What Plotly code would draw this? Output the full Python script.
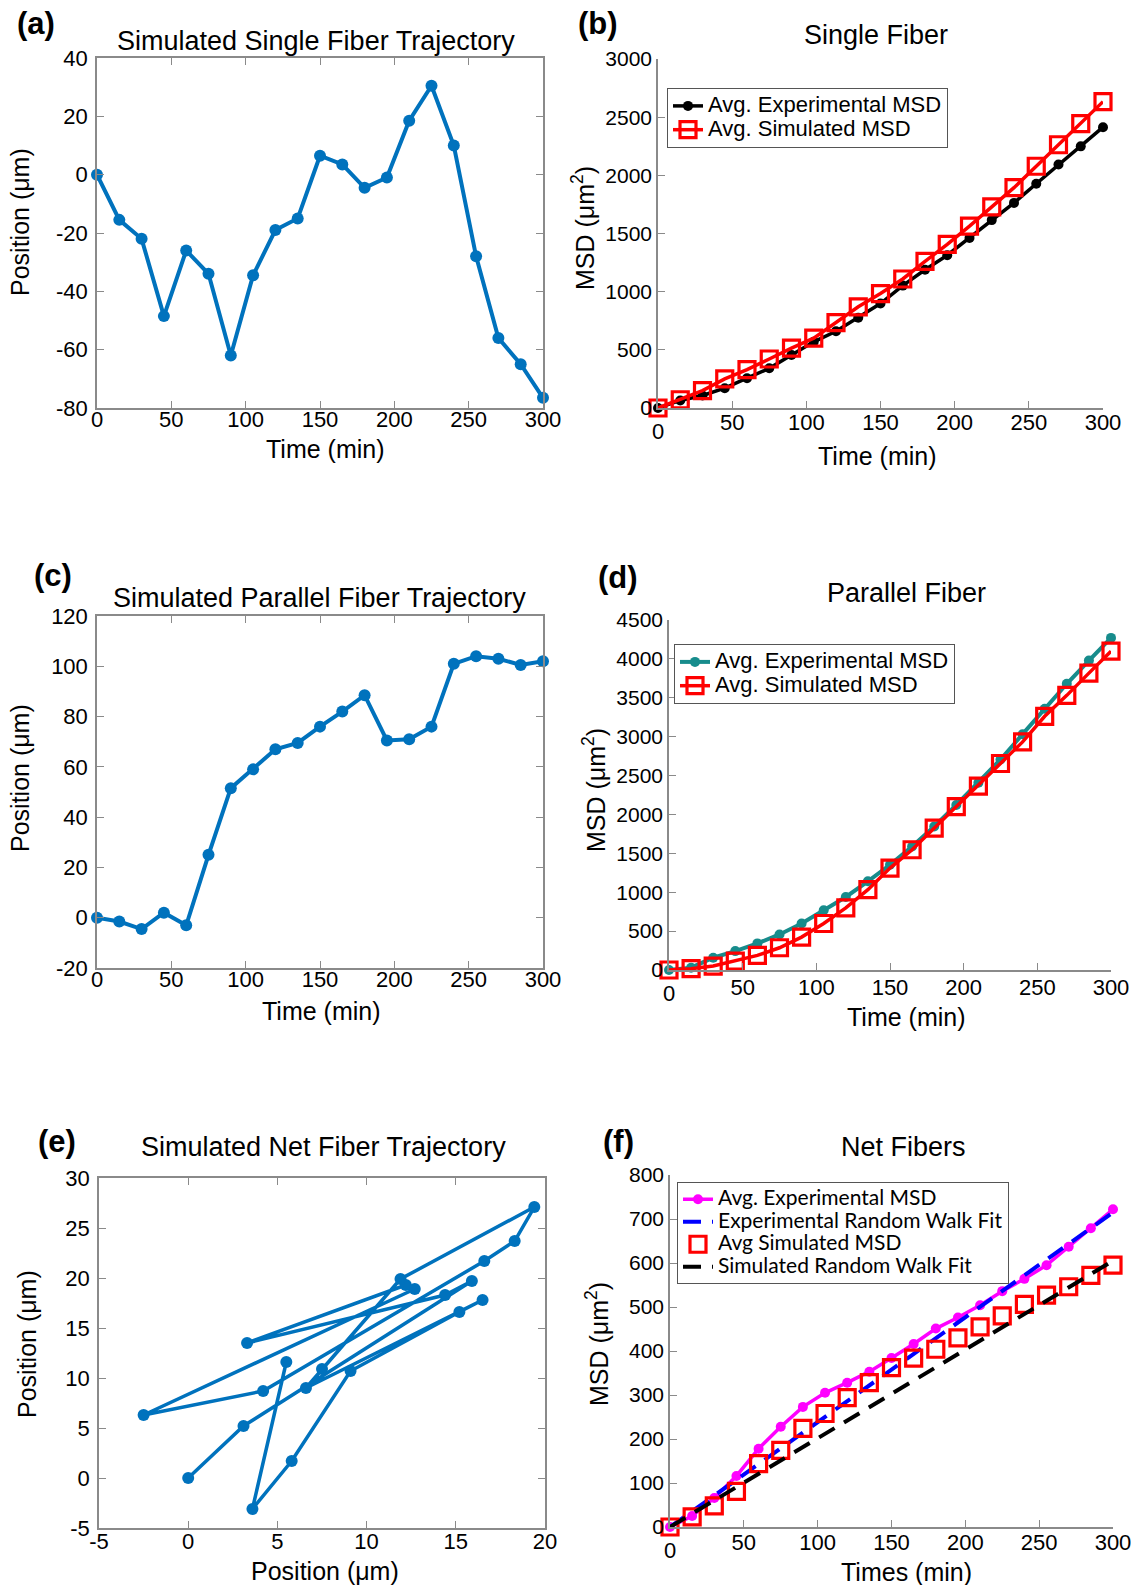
import plotly.graph_objects as go

# ---------------- data ----------------
times = [0, 15, 30, 45, 60, 75, 90, 105, 120, 135, 150, 165, 180, 195, 210, 225, 240, 255, 270, 285, 300]

single_traj = [0, -15.5, -22, -48.5, -26, -34, -62, -34.5, -19, -15, 6.5, 3.5, -4.5, -1, 18.5, 30.5, 10, -28, -56, -65, -76.5]

single_exp_msd = [0, 65, 108, 170, 256, 341, 455, 569, 660, 776, 898, 1052, 1188, 1313, 1461, 1615, 1763, 1928, 2093, 2249, 2414]
single_sim_msd = [0, 71, 150, 250, 330, 421, 515, 600, 734, 870, 984, 1109, 1260, 1407, 1564, 1729, 1894, 2078, 2263, 2445, 2633]

parallel_traj = [0, -1.5, -4.5, 2, -3, 25, 51.5, 59, 67, 69.5, 76, 82, 88.5, 70.5, 71, 76, 101, 104, 103, 100.5, 102]

parallel_exp_msd = [0, 30, 158, 243, 342, 457, 598, 769, 939, 1140, 1353, 1588, 1845, 2122, 2408, 2707, 3032, 3360, 3680, 3979, 4270]
parallel_sim_msd = [0, 17, 51, 115, 188, 286, 423, 598, 798, 1033, 1311, 1546, 1823, 2101, 2365, 2655, 2933, 3262, 3531, 3817, 4099]

net_x = [0, 3.1, 15.9, 14.4, 3.3, 12.2, 12.7, -2.5, 4.2, 16.6, 18.3, 19.4, 11.9, 7.5, 6.6, 16.5, 15.2, 9.1, 5.8, 3.6, 5.5]
net_y = [0, 5.2, 19.7, 18.3, 13.5, 19.3, 18.9, 6.3, 8.7, 21.7, 23.7, 27.1, 19.9, 10.9, 9.0, 17.8, 16.6, 10.7, 1.7, -3.1, 11.6]

net_exp_msd = [0, 25, 66, 116, 178, 228, 273, 305, 328, 353, 384, 416, 451, 476, 504, 536, 564, 595, 637, 679, 722]
net_sim_msd = [0, 23, 48, 81, 144, 174, 224, 258, 294, 328, 362, 384, 404, 430, 455, 480, 506, 527, 546, 572, 595]
fit_times = [0, 300]
net_exp_fit = [0, 715]
net_sim_fit = [0, 605]

# tick values / labels
time_ticks = [0, 50, 100, 150, 200, 250, 300]
time_ticks_no0 = [50, 100, 150, 200, 250, 300]
ya_ticks = [-80, -60, -40, -20, 0, 20, 40]
ya_labels = ["-80", "-60", "-40", "-20", "0", "20", "40"]
yc_ticks = [-20, 0, 20, 40, 60, 80, 100, 120]
yc_labels = ["-20", "0", "20", "40", "60", "80", "100", "120"]
xe_ticks = [-5, 0, 5, 10, 15, 20]
xe_labels = ["-5", "0", "5", "10", "15", "20"]
ye_ticks = [-5, 0, 5, 10, 15, 20, 25, 30]
ye_labels = ["-5", "0", "5", "10", "15", "20", "25", "30"]
yb_ticks = [0, 500, 1000, 1500, 2000, 2500, 3000]
yd_ticks = [0, 500, 1000, 1500, 2000, 2500, 3000, 3500, 4000, 4500]
yf_ticks = [0, 100, 200, 300, 400, 500, 600, 700, 800]

# ---------------- style ----------------
W, H = 1142, 1585
FONT = "Liberation Sans, Arial, sans-serif"
BLUE = "#0072BD"
TEAL = "#178C8C"
RED = "#FF0000"
MAG = "#FF00FF"
AXC = "#8a8a8a"

def xd(p0, p1):
    return [p0 / W, p1 / W]

def yd(top, bot):
    return [1 - bot / H, 1 - top / H]

# panel plot areas in pixels: (left, right, top, bottom)
P = {
    1: (97, 543, 58, 408),
    2: (658, 1103, 59, 408),
    3: (97, 543, 616, 968),
    4: (669, 1111, 620, 970),
    5: (99, 545, 1178, 1528),
    6: (670, 1113, 1175, 1527),
}

def big(s, px):
    return f'<span style="font-size:{px}px">{s}</span>'

fig = go.Figure()

def sc(**kw):
    kw.setdefault("cliponaxis", False)
    fig.add_trace(go.Scatter(**kw))

SQ = dict(color=RED, size=16, symbol="square-open", line=dict(width=3.2, color=RED))

# (a)
sc(x=times, y=single_traj, mode="lines+markers", line=dict(color=BLUE, width=4),
   marker=dict(color=BLUE, size=12), xaxis="x", yaxis="y", showlegend=False)
# (b)
sc(x=times, y=single_exp_msd, mode="lines+markers", name=big("Avg. Experimental MSD", 22),
   line=dict(color="black", width=3.5), marker=dict(color="black", size=10),
   xaxis="x2", yaxis="y2", legend="legend")
sc(x=times, y=single_sim_msd, mode="lines+markers", name=big("Avg. Simulated MSD", 22),
   line=dict(color=RED, width=3.5), marker=SQ,
   xaxis="x2", yaxis="y2", legend="legend")
# (c)
sc(x=times, y=parallel_traj, mode="lines+markers", line=dict(color=BLUE, width=4),
   marker=dict(color=BLUE, size=12), xaxis="x3", yaxis="y3", showlegend=False)
# (d)
sc(x=times, y=parallel_exp_msd, mode="lines+markers", name=big("Avg. Experimental MSD", 22),
   line=dict(color=TEAL, width=4), marker=dict(color=TEAL, size=10),
   xaxis="x4", yaxis="y4", legend="legend2")
sc(x=times, y=parallel_sim_msd, mode="lines+markers", name=big("Avg. Simulated MSD", 22),
   line=dict(color=RED, width=3.5), marker=SQ,
   xaxis="x4", yaxis="y4", legend="legend2")
# (e)
sc(x=net_x, y=net_y, mode="lines+markers", line=dict(color=BLUE, width=3.5),
   marker=dict(color=BLUE, size=12), xaxis="x5", yaxis="y5", showlegend=False)
# (f)
sc(x=times, y=net_exp_msd, mode="lines+markers", name=big("Avg. Experimental MSD", 21),
   line=dict(color=MAG, width=3.5), marker=dict(color=MAG, size=10),
   xaxis="x6", yaxis="y6", legend="legend3")
sc(x=fit_times, y=net_exp_fit, mode="lines", name=big("Experimental Random Walk Fit", 21),
   line=dict(color="#0000FF", width=4, dash="18px,11px"),
   xaxis="x6", yaxis="y6", legend="legend3")
sc(x=times, y=net_sim_msd, mode="markers", name=big("Avg Simulated MSD", 21),
   marker=SQ, xaxis="x6", yaxis="y6", legend="legend3")
sc(x=fit_times, y=net_sim_fit, mode="lines", name=big("Simulated Random Walk Fit", 21),
   line=dict(color="black", width=4, dash="18px,11px"),
   xaxis="x6", yaxis="y6", legend="legend3")

tickfont = dict(family=FONT, size=22, color="black")
tickfont_msd = dict(family=FONT, size=21, color="black")

def axis(dom, rng, anchor, mirror, tickvals, ticktext, font, standoff):
    d = dict(domain=dom, range=rng, anchor=anchor, showgrid=False, zeroline=False,
             showline=True, linecolor=AXC, linewidth=1.5, ticks="inside", ticklen=7,
             tickcolor=AXC, tickwidth=1.2, tickfont=font, mirror=mirror,
             automargin=False, tickmode="array", tickvals=tickvals, ticklabelstandoff=standoff)
    if ticktext is not None:
        d["ticktext"] = ticktext
    return d

# panel: x range, x ticks, x labels, x standoff, y range, y ticks, y labels, y font, y standoff, mirror
cfg = {
    1: ([0, 300], time_ticks, None, -9, [-80, 40], ya_ticks, ya_labels, tickfont, 3, "ticks"),
    2: ([0, 300], time_ticks_no0, None, -6, [0, 3000], yb_ticks, None, tickfont_msd, 0, False),
    3: ([0, 300], time_ticks, None, -9, [-20, 120], yc_ticks, yc_labels, tickfont, 3, "ticks"),
    4: ([0, 300], time_ticks_no0, None, -3, [0, 4500], yd_ticks, None, tickfont_msd, 0, False),
    5: ([-5, 20], xe_ticks, xe_labels, -7, [-5, 30], ye_ticks, ye_labels, tickfont, 3, "ticks"),
    6: ([0, 300], time_ticks_no0, None, -5, [0, 800], yf_ticks, None, tickfont_msd, 0, False),
}
lay = {}
for i, (xr, xtv, xtt, xso, yr, ytv, ytt, yfont, yso, mir) in cfg.items():
    l, r, t, b = P[i]
    xn = "xaxis" if i == 1 else f"xaxis{i}"
    yn = "yaxis" if i == 1 else f"yaxis{i}"
    lay[xn] = axis(xd(l, r), xr, "y" if i == 1 else f"y{i}", mir, xtv, xtt, tickfont, xso)
    lay[yn] = axis(yd(t, b), yr, "x" if i == 1 else f"x{i}", mir, ytv, ytt, yfont, yso)

fig.update_layout(**lay)

def leg(xpx, ypx, font):
    return dict(x=xpx / W, y=1 - ypx / H, xanchor="left", yanchor="top", xref="paper", yref="paper",
                bordercolor="#555555", borderwidth=1, bgcolor="white", font=font,
                itemwidth=30, tracegroupgap=0, traceorder="normal")

fig.update_layout(
    legend=leg(667, 88, dict(family=FONT, size=16, color="black")),
    legend2=leg(674, 644, dict(family=FONT, size=16, color="black")),
    legend3=leg(677, 1182, dict(family="Lato, Liberation Sans, sans-serif", size=15, color="black")),
)

ann = []
def txt(s, xpx, ypx, size=25, bold=False, angle=0, xanchor="center"):
    ann.append(dict(text=f"<b>{s}</b>" if bold else s, x=xpx / W, y=1 - ypx / H, xref="paper", yref="paper",
                    showarrow=False, font=dict(family=FONT, size=size, color="black"),
                    textangle=angle, xanchor=xanchor, yanchor="middle"))

# panel letters
txt("(a)", 36, 23, size=31, bold=True)
txt("(b)", 598, 23, size=31, bold=True)
txt("(c)", 53, 575, size=31, bold=True)
txt("(d)", 618, 577, size=31, bold=True)
txt("(e)", 57, 1141, size=31, bold=True)
txt("(f)", 618, 1141, size=31, bold=True)
# titles
TS = 27
txt("Simulated Single Fiber Trajectory", 316, 41, size=TS)
txt("Single Fiber", 876, 35, size=TS)
txt("Simulated Parallel Fiber Trajectory", 319, 598, size=TS)
txt("Parallel Fiber", 907, 593, size=TS)
txt("Simulated Net Fiber Trajectory", 323, 1147, size=TS)
txt("Net Fibers", 903, 1147, size=TS)
# x axis titles
txt("Time (min)", 325, 449)
txt("Time (min)", 877, 456)
txt("Time (min)", 321, 1011)
txt("Time (min)", 907, 1017)
txt("Position (\u03bcm)", 325, 1571)
txt("Times (min)", 907, 1572)
# y axis titles
txt("Position (\u03bcm)", 20, 222, angle=-90)
txt("MSD (\u03bcm<sup>2</sup>)", 583, 228, angle=-90)
txt("Position (\u03bcm)", 20, 778, angle=-90)
txt("MSD (\u03bcm<sup>2</sup>)", 594, 790, angle=-90)
txt("Position (\u03bcm)", 27, 1344, angle=-90)
txt("MSD (\u03bcm<sup>2</sup>)", 597, 1344, angle=-90)
# lowered zero labels on the MSD x axes
for i, yoff in ((2, 23), (4, 23), (6, 23)):
    l, r, t, b = P[i]
    ann.append(dict(text="0", x=0, y=1 - (b + yoff) / H, xref=f"x{i}", yref="paper", showarrow=False,
                    font=tickfont, xanchor="center", yanchor="middle"))

fig.update_layout(annotations=ann, width=W, height=H, margin=dict(l=0, r=0, t=0, b=0, autoexpand=False),
                  paper_bgcolor="white", plot_bgcolor="white", font=dict(family=FONT))

fig.write_html("out.html")
